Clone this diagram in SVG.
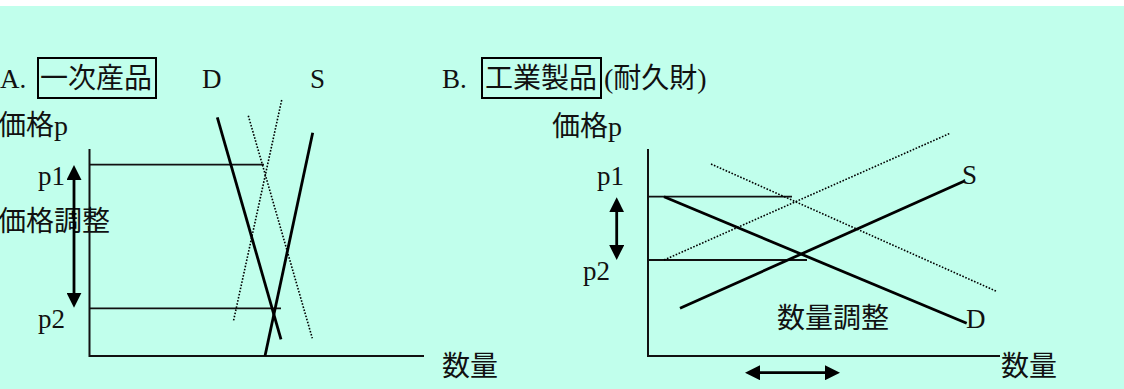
<svg xmlns="http://www.w3.org/2000/svg" width="1124" height="389" viewBox="0 0 1124 389">
<style>
.t{font-family:"Liberation Serif","Noto Sans CJK JP",serif;fill:#111;font-size:28px}
.l{font-family:"Liberation Serif","Noto Sans CJK JP",serif;fill:#111;font-size:27px}
.ax{stroke:#111;stroke-width:2;fill:none}
.pl{stroke:#111;stroke-width:1.8;fill:none}
.cv{stroke:#000;stroke-width:2.8;fill:none}
.dt{stroke:#000;stroke-width:1.6;stroke-dasharray:1.6 1.6;fill:none}
.ar{stroke:#000;stroke-width:2.8;fill:none}
.bx{stroke:#000;stroke-width:2;fill:none}
</style>
<defs>
<marker id="ah" viewBox="0 0 15 15" refX="7" refY="7.5" markerWidth="15" markerHeight="15" markerUnits="userSpaceOnUse" orient="auto-start-reverse">
<path d="M0,0 L15,7.5 L0,15 z" fill="#000"/>
</marker>
</defs>
<rect x="0" y="0" width="1124" height="389" fill="#fff"/>
<rect x="0" y="6" width="1124" height="383" fill="#c1ffec"/>

<g id="panelA">
<g id="titleA">
<text class="l" x="0" y="88">A.</text>
<rect class="bx" x="38" y="58" width="118" height="40"/>
<text class="t" x="40" y="88">一次産品</text>
<text class="l" x="202" y="88">D</text>
<text class="l" x="310" y="88">S</text>
</g>
<g id="axesA">
<path class="ax" d="M89.5,149 V356 H424"/>
<text class="t" x="-2" y="135">価格p</text>
<text class="t" x="442" y="376">数量</text>
</g>
<g id="pricesA">
<line class="pl" x1="89.5" y1="164.7" x2="264" y2="164.7"/>
<line class="pl" x1="89.5" y1="308.3" x2="281" y2="308.3"/>
<text class="l" x="38" y="185">p1</text>
<text class="l" x="38" y="328">p2</text>
<text class="t" x="-2" y="231">価格調整</text>
</g>
<g id="curvesA">
<line class="cv" x1="217.3" y1="117.3" x2="281" y2="339.3"/>
<line class="cv" x1="312.7" y1="132.7" x2="265" y2="356"/>
<line class="dt" x1="281.7" y1="100" x2="233.3" y2="321.7"/>
<line class="dt" x1="248.3" y1="115.7" x2="312.3" y2="338.3"/>
</g>
</g>

<g id="panelB">
<g id="titleB">
<text class="l" x="442" y="88">B.</text>
<rect class="bx" x="482" y="58" width="119" height="40"/>
<text class="t" x="485" y="88">工業製品</text>
<text class="t" x="604" y="88">(耐久財)</text>
</g>
<g id="axesB">
<path class="ax" d="M648,149 V356 H1000"/>
<text class="t" x="552" y="136">価格p</text>
<text class="t" x="1001" y="376">数量</text>
</g>
<g id="pricesB">
<line class="pl" x1="648" y1="196.7" x2="792" y2="196.7"/>
<line class="pl" x1="648" y1="260" x2="807" y2="260"/>
<text class="l" x="597" y="185">p1</text>
<text class="l" x="583" y="280">p2</text>
<text class="t" x="777" y="328">数量調整</text>
</g>
<g id="curvesB">
<line class="cv" x1="664" y1="196.7" x2="966.7" y2="323.3"/>
<line class="cv" x1="680" y1="308.3" x2="965" y2="180.7"/>
<line class="dt" x1="664" y1="260" x2="950" y2="133.3"/>
<line class="dt" x1="711" y1="164" x2="997.3" y2="291.7"/>
<text class="l" x="962" y="184">S</text>
<text class="l" x="966" y="328">D</text>
</g>
</g>

<g id="connectors">
<line class="ar" x1="74" y1="173" x2="74" y2="299.7" marker-start="url(#ah)" marker-end="url(#ah)"/>
<line class="ar" x1="616.7" y1="205.3" x2="616.7" y2="252" marker-start="url(#ah)" marker-end="url(#ah)"/>
<line class="ar" x1="753" y1="372.7" x2="832" y2="372.7" marker-start="url(#ah)" marker-end="url(#ah)"/>
</g>
</svg>
